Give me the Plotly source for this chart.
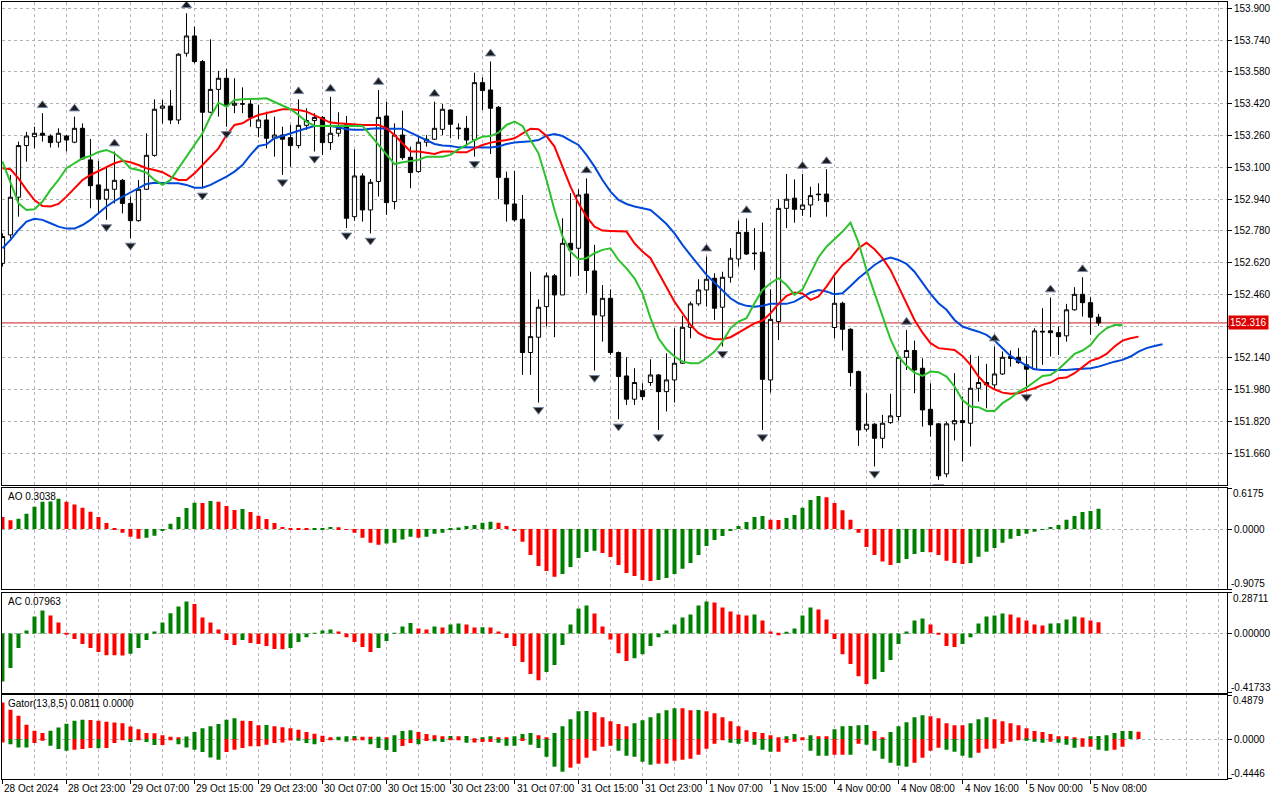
import plotly.graph_objects as go
from plotly.subplots import make_subplots

# USDJPY H1, bars from 28 Oct 2024 15:00 to 5 Nov 2024 09:00
open_ = [
    152.616, 152.759, 152.949, 153.209, 153.254, 153.271, 153.257, 153.226, 153.257, 153.226,
    153.296, 153.137, 153.011, 152.939, 152.989, 153.034, 152.918, 152.831, 152.989, 153.160,
    153.397, 153.408, 153.338, 153.674, 153.761, 153.632, 153.377, 153.492, 153.548, 153.412,
    153.420, 153.418, 153.299, 153.338, 153.246, 153.262, 153.249, 153.209, 153.311, 153.335,
    153.351, 153.224, 153.271, 153.318, 152.851, 153.056, 152.885, 153.028, 153.358, 152.927,
    153.262, 153.150, 153.078, 153.226, 153.241, 153.291, 153.388, 153.298, 153.296, 153.237,
    153.526, 153.489, 153.402, 153.044, 152.915, 152.838, 152.167, 152.244, 152.398, 152.553,
    152.457, 152.717, 152.692, 152.965, 152.578, 152.351, 152.440, 152.167, 152.049, 151.932,
    151.975, 152.016, 152.054, 151.970, 152.029, 152.113, 152.294, 152.412, 152.482, 152.541,
    152.395, 152.546, 152.638, 152.772, 152.668, 152.672, 152.029, 152.323, 152.893, 152.944,
    152.888, 152.910, 152.965, 152.965, 152.293, 152.415, 152.284, 152.071, 151.781, 151.806,
    151.735, 151.814, 151.845, 152.143, 152.177, 152.088, 151.881, 151.808, 151.556, 151.808,
    151.824, 151.811, 151.987, 152.016, 152.004, 152.059, 152.137, 152.143, 152.105, 152.083,
    152.274, 152.276, 152.267, 152.251, 152.382, 152.460, 152.418, 152.345,
]
high_ = [
    152.767, 153.061, 153.229, 153.278, 153.304, 153.372, 153.266, 153.296, 153.262, 153.355,
    153.321, 153.242, 153.132, 153.103, 153.179, 153.041, 152.952, 153.036, 153.271, 153.442,
    153.439, 153.489, 153.674, 153.875, 153.808, 153.640, 153.744, 153.585, 153.595, 153.548,
    153.502, 153.439, 153.413, 153.380, 153.355, 153.304, 153.313, 153.442, 153.397, 153.372,
    153.358, 153.455, 153.377, 153.358, 153.190, 153.069, 153.041, 153.489, 153.430, 153.321,
    153.385, 153.204, 153.254, 153.262, 153.430, 153.418, 153.392, 153.321, 153.358, 153.576,
    153.553, 153.632, 153.408, 153.078, 153.081, 152.960, 152.574, 152.435, 152.569, 152.563,
    152.843, 152.969, 152.989, 153.044, 152.709, 152.507, 152.485, 152.172, 152.143, 152.088,
    152.012, 152.133, 152.059, 152.163, 152.289, 152.351, 152.423, 152.536, 152.650, 152.566,
    152.574, 152.692, 152.831, 152.843, 152.793, 152.821, 152.485, 152.939, 153.066, 153.039,
    153.066, 153.002, 153.019, 153.090, 152.546, 152.423, 152.289, 152.076, 151.962, 151.811,
    151.853, 151.959, 152.155, 152.281, 152.227, 152.138, 152.012, 151.811, 151.819, 152.063,
    151.945, 152.155, 152.150, 152.110, 152.197, 152.172, 152.177, 152.189, 152.150, 152.289,
    152.390, 152.444, 152.298, 152.412, 152.496, 152.546, 152.445, 152.361,
]
low_ = [
    152.600, 152.742, 152.851, 153.128, 153.195, 153.229, 153.199, 153.199, 153.179, 153.221,
    153.137, 152.893, 152.868, 152.835, 152.918, 152.868, 152.742, 152.826, 152.986, 153.153,
    153.321, 153.318, 153.318, 153.657, 153.623, 152.994, 153.372, 153.355, 153.304, 153.372,
    153.372, 153.304, 153.251, 153.195, 153.153, 153.061, 153.103, 153.195, 153.288, 153.179,
    153.162, 153.187, 153.254, 152.793, 152.831, 152.826, 152.767, 152.952, 152.860, 152.888,
    153.137, 152.994, 153.073, 153.204, 153.237, 153.262, 153.246, 153.241, 153.204, 153.153,
    153.388, 153.167, 152.939, 152.826, 152.826, 152.054, 152.054, 151.915, 152.298, 152.244,
    152.457, 152.549, 152.553, 152.465, 152.076, 152.222, 152.155, 151.831, 151.903, 151.903,
    151.928, 151.999, 151.777, 151.870, 151.915, 152.110, 152.239, 152.402, 152.398, 152.331,
    152.197, 152.519, 152.600, 152.658, 152.583, 151.777, 151.965, 152.230, 152.793, 152.821,
    152.855, 152.848, 152.930, 152.851, 152.239, 152.177, 151.996, 151.697, 151.769, 151.593,
    151.685, 151.808, 151.824, 152.079, 151.962, 151.794, 151.744, 151.526, 151.539, 151.724,
    151.618, 151.694, 151.920, 151.886, 151.987, 152.054, 152.096, 152.110, 151.979, 152.079,
    152.105, 152.147, 152.155, 152.222, 152.378, 152.348, 152.256, 152.301,
]
close_ = [
    152.751, 152.949, 153.209, 153.257, 153.271, 153.261, 153.224, 153.271, 153.237, 153.296,
    153.142, 153.007, 152.939, 152.989, 153.034, 152.918, 152.831, 152.989, 153.160, 153.392,
    153.408, 153.338, 153.669, 153.761, 153.632, 153.377, 153.492, 153.548, 153.408, 153.422,
    153.418, 153.351, 153.338, 153.246, 153.262, 153.241, 153.209, 153.311, 153.335, 153.351,
    153.224, 153.271, 153.296, 152.843, 153.056, 152.885, 153.024, 153.351, 152.922, 153.262,
    153.148, 153.073, 153.226, 153.241, 153.296, 153.392, 153.316, 153.294, 153.237, 153.526,
    153.486, 153.397, 153.049, 152.915, 152.835, 152.167, 152.247, 152.395, 152.553, 152.457,
    152.717, 152.684, 152.960, 152.580, 152.356, 152.440, 152.167, 152.046, 151.932, 152.016,
    151.945, 152.054, 151.970, 152.029, 152.113, 152.294, 152.412, 152.482, 152.536, 152.390,
    152.546, 152.642, 152.772, 152.663, 152.665, 152.032, 152.334, 152.893, 152.939, 152.888,
    152.910, 152.957, 152.962, 152.927, 152.415, 152.284, 152.066, 151.777, 151.806, 151.735,
    151.811, 151.848, 152.143, 152.177, 152.079, 151.878, 151.803, 151.546, 151.808, 151.824,
    151.814, 151.987, 152.016, 152.004, 152.059, 152.143, 152.147, 152.116, 152.083, 152.276,
    152.271, 152.267, 152.247, 152.382, 152.460, 152.418, 152.345, 152.316,
]

# Alligator lines as drawn (already shifted forward: jaw 8, teeth 5, lips 3)
jaw = [
    152.692, 152.734, 152.784, 152.826, 152.840, 152.835, 152.818, 152.801, 152.791, 152.791,
    152.809, 152.835, 152.868, 152.902, 152.930, 152.952, 152.972, 152.994, 153.016, 153.022,
    153.019, 153.019, 153.019, 153.011, 152.997, 152.997, 153.011, 153.031, 153.053, 153.078,
    153.111, 153.162, 153.207, 153.215, 153.246, 153.257, 153.271, 153.284, 153.296, 153.308,
    153.308, 153.308, 153.301, 153.291, 153.289, 153.289, 153.294, 153.296, 153.294, 153.294,
    153.294, 153.274, 153.254, 153.237, 153.217, 153.210, 153.207, 153.200, 153.199, 153.199,
    153.199, 153.199, 153.204, 153.217, 153.224, 153.226, 153.231, 153.237, 153.259, 153.267,
    153.257, 153.234, 153.212, 153.162, 153.103, 153.036, 152.977, 152.935, 152.915, 152.902,
    152.893, 152.885, 152.851, 152.814, 152.767, 152.709, 152.658, 152.608, 152.558, 152.519,
    152.479, 152.440, 152.415, 152.402, 152.398, 152.402, 152.412, 152.412, 152.412, 152.423,
    152.445, 152.469, 152.482, 152.474, 152.460, 152.465, 152.502, 152.541, 152.574, 152.608,
    152.633, 152.645, 152.633, 152.613, 152.574, 152.516, 152.462, 152.415, 152.382, 152.331,
    152.298, 152.284, 152.272, 152.256, 152.227, 152.189, 152.150, 152.125, 152.101, 152.083,
    152.079, 152.079, 152.079, 152.079, 152.083, 152.086, 152.088, 152.096, 152.110, 152.121,
    152.130, 152.147, 152.172, 152.189, 152.200, 152.209,
]
teeth = [
    153.095, 153.090, 153.044, 152.986, 152.935, 152.905, 152.902, 152.915, 152.952, 152.994,
    153.036, 153.061, 153.081, 153.098, 153.120, 153.132, 153.125, 153.111, 153.095, 153.086,
    153.075, 153.053, 153.036, 153.036, 153.069, 153.111, 153.153, 153.195, 153.262, 153.313,
    153.321, 153.346, 153.363, 153.372, 153.383, 153.392, 153.392, 153.388, 153.380, 153.363,
    153.346, 153.325, 153.321, 153.318, 153.313, 153.313, 153.313, 153.313, 153.296, 153.262,
    153.221, 153.179, 153.179, 153.174, 153.167, 153.179, 153.179, 153.175, 153.175, 153.195,
    153.212, 153.224, 153.229, 153.237, 153.246, 153.271, 153.294, 153.291, 153.257, 153.204,
    153.103, 153.002, 152.918, 152.851, 152.801, 152.781, 152.779, 152.779, 152.776, 152.717,
    152.675, 152.642, 152.569, 152.496, 152.423, 152.365, 152.306, 152.264, 152.244, 152.234,
    152.234, 152.244, 152.267, 152.289, 152.314, 152.328, 152.365, 152.412, 152.452, 152.469,
    152.465, 152.432, 152.449, 152.499, 152.558, 152.608, 152.642, 152.692, 152.720, 152.687,
    152.642, 152.583, 152.499, 152.407, 152.331, 152.267, 152.214, 152.189, 152.183, 152.180,
    152.150, 152.105, 152.046, 152.004, 151.982, 151.965, 151.959, 151.962, 151.975, 151.987,
    152.004, 152.016, 152.038, 152.041, 152.063, 152.096, 152.125, 152.138, 152.160, 152.197,
    152.227, 152.239, 152.247,
]
lips = [
    153.128, 153.028, 152.918, 152.885, 152.888, 152.927, 152.986, 153.036, 153.095, 153.120,
    153.145, 153.157, 153.177, 153.187, 153.170, 153.137, 153.095, 153.086, 153.073, 153.036,
    153.011, 153.036, 153.095, 153.157, 153.212, 153.271, 153.355, 153.425, 153.405, 153.439,
    153.442, 153.445, 153.445, 153.447, 153.430, 153.413, 153.392, 153.363, 153.330, 153.308,
    153.309, 153.309, 153.309, 153.308, 153.308, 153.308, 153.262, 153.212, 153.162, 153.116,
    153.125, 153.132, 153.137, 153.153, 153.153, 153.153, 153.162, 153.190, 153.212, 153.237,
    153.254, 153.257, 153.274, 153.313, 153.330, 153.308, 153.237, 153.170, 153.036, 152.885,
    152.751, 152.675, 152.637, 152.642, 152.667, 152.684, 152.692, 152.633, 152.591, 152.541,
    152.465, 152.340, 152.239, 152.183, 152.147, 152.121, 152.113, 152.113, 152.138, 152.172,
    152.222, 152.289, 152.323, 152.340, 152.415, 152.482, 152.516, 152.541, 152.507, 152.457,
    152.485, 152.566, 152.647, 152.700, 152.737, 152.776, 152.821, 152.720, 152.583, 152.465,
    152.348, 152.234, 152.147, 152.100, 152.066, 152.049, 152.071, 152.068, 152.046, 151.996,
    151.928, 151.895, 151.892, 151.873, 151.873, 151.912, 151.937, 151.970, 151.991, 152.021,
    152.049, 152.054, 152.083, 152.121, 152.160, 152.177, 152.205, 152.256, 152.289, 152.306,
    152.306,
]

# bar indexes carrying a fractal
fractal_up = [5, 9, 14, 23, 37, 41, 47, 54, 61, 73, 88, 93, 100, 103, 113, 124, 131, 135]
fractal_dn = [13, 16, 25, 28, 35, 39, 43, 46, 59, 67, 74, 77, 82, 90, 95, 109, 117, 128]

ao = [
    0.181, 0.131, 0.156, 0.231, 0.336, 0.412, 0.415, 0.457, 0.412, 0.371,
    0.321, 0.261, 0.181, 0.090, 0.015, -0.055, -0.115, -0.146, -0.131, -0.100,
    -0.025, 0.080, 0.181, 0.316, 0.397, 0.392, 0.422, 0.412, 0.346, 0.286,
    0.301, 0.256, 0.201, 0.151, 0.090, 0.030, 0.006, 0.003, 0.001, 0.002,
    0.010, 0.030, 0.027, -0.003, -0.055, -0.131, -0.206, -0.236, -0.216, -0.206,
    -0.156, -0.115, -0.131, -0.115, -0.070, -0.055, 0.002, 0.025, 0.045, 0.060,
    0.095, 0.110, 0.095, 0.045, -0.025, -0.191, -0.392, -0.557, -0.633, -0.718,
    -0.678, -0.572, -0.437, -0.346, -0.326, -0.361, -0.422, -0.542, -0.663, -0.708,
    -0.768, -0.783, -0.768, -0.738, -0.678, -0.597, -0.512, -0.392, -0.256, -0.166,
    -0.105, -0.025, 0.045, 0.105, 0.181, 0.196, 0.141, 0.136, 0.166, 0.211,
    0.321, 0.437, 0.497, 0.477, 0.392, 0.281, 0.141, -0.055, -0.271, -0.392,
    -0.487, -0.542, -0.512, -0.452, -0.377, -0.346, -0.351, -0.392, -0.477, -0.512,
    -0.527, -0.512, -0.417, -0.341, -0.286, -0.206, -0.146, -0.105, -0.070, -0.040,
    -0.005, 0.030, 0.060, 0.141, 0.196, 0.256, 0.271, 0.3038,
]
ac = [
    -0.338, -0.244, -0.103, 0.021, 0.120, 0.162, 0.127, 0.077, -0.005, -0.040,
    -0.075, -0.103, -0.131, -0.153, -0.154, -0.155, -0.143, -0.103, -0.047, 0.014,
    0.077, 0.143, 0.190, 0.225, 0.207, 0.113, 0.077, 0.028, -0.047, -0.082,
    -0.047, -0.068, -0.075, -0.089, -0.110, -0.111, -0.103, -0.061, -0.026, 0.003,
    0.021, 0.028, 0.014, -0.026, -0.061, -0.096, -0.131, -0.103, -0.054, 0.002,
    0.049, 0.073, 0.035, 0.028, 0.049, 0.042, 0.063, 0.070, 0.063, 0.042,
    0.043, 0.041, 0.014, -0.033, -0.089, -0.202, -0.286, -0.329, -0.272, -0.223,
    -0.082, 0.063, 0.176, 0.197, 0.141, 0.049, -0.042, -0.139, -0.195, -0.174,
    -0.146, -0.089, -0.026, 0.021, 0.063, 0.113, 0.134, 0.197, 0.225, 0.218,
    0.183, 0.155, 0.134, 0.127, 0.134, 0.092, 0.014, -0.012, 0.007, 0.035,
    0.127, 0.183, 0.169, 0.099, -0.040, -0.146, -0.216, -0.301, -0.357, -0.322,
    -0.272, -0.188, -0.075, 0.014, 0.092, 0.106, 0.063, -0.003, -0.089, -0.096,
    -0.075, -0.026, 0.070, 0.120, 0.127, 0.141, 0.134, 0.113, 0.092, 0.063,
    0.056, 0.070, 0.071, 0.099, 0.120, 0.113, 0.092, 0.07963,
]
gator_up = [
    0.407, 0.326, 0.259, 0.159, 0.093, 0.067, 0.093, 0.130, 0.170, 0.204,
    0.215, 0.214, 0.204, 0.192, 0.185, 0.178, 0.141, 0.111, 0.067, 0.066,
    0.044, 0.026, 0.015, 0.030, 0.078, 0.122, 0.144, 0.167, 0.215, 0.233,
    0.204, 0.203, 0.155, 0.156, 0.144, 0.133, 0.122, 0.104, 0.078, 0.059,
    0.037, 0.015, 0.026, 0.033, 0.034, 0.026, 0.025, 0.026, 0.015, 0.044,
    0.089, 0.100, 0.078, 0.056, 0.044, 0.033, 0.034, 0.033, 0.034, 0.002,
    0.022, 0.033, 0.022, 0.021, 0.033, 0.056, 0.067, 0.044, 0.022, 0.067,
    0.144, 0.222, 0.311, 0.312, 0.300, 0.244, 0.200, 0.167, 0.144, 0.178,
    0.211, 0.244, 0.289, 0.322, 0.344, 0.343, 0.322, 0.323, 0.311, 0.289,
    0.244, 0.200, 0.144, 0.100, 0.078, 0.067, 0.044, 0.011, 0.033, 0.056,
    0.011, 0.044, 0.033, 0.032, 0.111, 0.144, 0.145, 0.155, 0.156, 0.089,
    0.022, 0.078, 0.144, 0.189, 0.244, 0.266, 0.255, 0.233, 0.178, 0.155,
    0.154, 0.178, 0.222, 0.244, 0.222, 0.200, 0.178, 0.155, 0.122, 0.089,
    0.078, 0.056, 0.033, 0.032, 0.022, 0.001, 0.033, 0.034, 0.044, 0.067,
    0.089, 0.090, 0.0811,
]
gator_dn = [
    -0.037, -0.056, -0.093, -0.094, -0.044, -0.019, -0.074, -0.111, -0.130, -0.118,
    -0.111, -0.100, -0.101, -0.099, -0.044, -0.007, -0.033, -0.007, -0.033, -0.067,
    -0.066, -0.007, -0.056, -0.093, -0.118, -0.144, -0.204, -0.229, -0.144, -0.118,
    -0.100, -0.081, -0.080, -0.063, -0.044, -0.037, -0.015, -0.019, -0.044, -0.056,
    -0.033, -0.007, -0.008, -0.030, -0.015, -0.007, -0.056, -0.100, -0.122, -0.144,
    -0.078, -0.044, -0.056, -0.022, -0.023, -0.033, -0.011, -0.007, -0.041, -0.037,
    -0.033, -0.032, -0.041, -0.074, -0.075, -0.022, -0.063, -0.100, -0.196, -0.307,
    -0.363, -0.318, -0.274, -0.207, -0.130, -0.085, -0.074, -0.130, -0.185, -0.196,
    -0.252, -0.285, -0.274, -0.273, -0.241, -0.229, -0.218, -0.174, -0.107, -0.052,
    -0.007, -0.041, -0.052, -0.030, -0.063, -0.118, -0.141, -0.140, -0.041, -0.030,
    -0.007, -0.130, -0.185, -0.186, -0.174, -0.173, -0.174, -0.052, -0.063, -0.130,
    -0.218, -0.263, -0.296, -0.307, -0.263, -0.207, -0.130, -0.096, -0.118, -0.141,
    -0.185, -0.207, -0.152, -0.107, -0.106, -0.052, -0.030, -0.007, -0.019, -0.030,
    -0.041, -0.030, -0.041, -0.063, -0.096, -0.085, -0.084, -0.118, -0.130, -0.118,
    -0.085, 0.0, 0.0,
]

time_idx = [0, 8, 16, 24, 32, 40, 48, 56, 64, 72, 80, 88, 96, 104, 112, 120, 128, 136]
time_txt = ["28 Oct 2024", "28 Oct 23:00", "29 Oct 07:00", "29 Oct 15:00", "29 Oct 23:00",
            "30 Oct 07:00", "30 Oct 15:00", "30 Oct 23:00", "31 Oct 07:00", "31 Oct 15:00",
            "31 Oct 23:00", "1 Nov 07:00", "1 Nov 15:00", "4 Nov 00:00", "4 Nov 08:00",
            "4 Nov 16:00", "5 Nov 00:00", "5 Nov 08:00"]
price_ticks = [151.660, 151.820, 151.980, 152.140, 152.300, 152.460, 152.620, 152.780,
               152.940, 153.100, 153.260, 153.420, 153.580, 153.740, 153.900]

GREEN = "#008000"
RED = "#ff0000"
FONT = "Liberation Sans"
XGRID = "#bfaebf"
YGRID = "#a9b5a9"


def bar_colors(vals, first, use_abs=False):
    # MT style: green when the bar grew against the previous one
    cols = [first]
    for i in range(1, len(vals)):
        a, b = vals[i], vals[i - 1]
        if use_abs:
            a, b = abs(a), abs(b)
        cols.append(GREEN if a > b else RED)
    return cols


fig = make_subplots(rows=4, cols=1, shared_xaxes=True, vertical_spacing=0.0)

n = len(close_)
fig.add_trace(go.Candlestick(
    x=list(range(n)), open=open_, high=high_, low=low_, close=close_,
    increasing=dict(line=dict(color="black", width=1), fillcolor="white"),
    decreasing=dict(line=dict(color="black", width=1), fillcolor="black"),
    whiskerwidth=0, hoverinfo="skip"), row=1, col=1)

for vals, col in [(jaw, "#0048d8"), (teeth, "#ff0000"), (lips, "#2ec12e")]:
    fig.add_trace(go.Scatter(x=list(range(len(vals))), y=vals, mode="lines",
                             line=dict(color=col, width=2)), row=1, col=1)

# fractal arrows: solid dark heads just beyond the extreme of the bar
fig.add_trace(go.Scatter(
    x=fractal_up, y=[high_[i] + 0.040 for i in fractal_up], mode="markers",
    marker=dict(symbol="triangle-up", size=9, color="#1c1c1c",
                line=dict(color="#7888a8", width=1))), row=1, col=1)
fig.add_trace(go.Scatter(
    x=fractal_dn, y=[low_[i] - 0.036 for i in fractal_dn], mode="markers",
    marker=dict(symbol="triangle-down", size=9, color="#1c1c1c",
                line=dict(color="#7888a8", width=1))), row=1, col=1)

fig.add_trace(go.Bar(x=list(range(len(ao))), y=ao, width=0.5,
                     marker=dict(color=bar_colors(ao, RED), line=dict(width=0))), row=2, col=1)
fig.add_trace(go.Bar(x=list(range(len(ac))), y=ac, width=0.5,
                     marker=dict(color=bar_colors(ac, GREEN), line=dict(width=0))), row=3, col=1)
fig.add_trace(go.Bar(x=list(range(len(gator_up))), y=gator_up, width=0.5,
                     marker=dict(color=bar_colors(gator_up, RED), line=dict(width=0))), row=4, col=1)
fig.add_trace(go.Bar(x=list(range(len(gator_dn))), y=gator_dn, width=0.5,
                     marker=dict(color=bar_colors(gator_dn, RED, use_abs=True), line=dict(width=0))),
              row=4, col=1)

# last price line and its tag
fig.add_shape(type="line", xref="x domain", x0=0, x1=1, yref="y", y0=close_[-1], y1=close_[-1],
              line=dict(color="#c81e1e", width=1), layer="below")

tickfont = dict(family=FONT, size=10, color="black")
fig.update_layout(
    width=1280, height=800,
    margin=dict(l=2, r=53, t=2, b=21),
    paper_bgcolor="white", plot_bgcolor="white",
    showlegend=False, barmode="relative",
    boxgap=0.3, boxgroupgap=0.25,
    font=dict(family=FONT, size=10, color="black"),
    xaxis_rangeslider_visible=False,
)

domains = [[0.3784, 1.0], [0.2441, 0.3745], [0.1111, 0.2398], [0.0, 0.1077]]
for r in range(1, 5):
    fig.update_yaxes(domain=domains[r - 1], row=r, col=1)
    fig.update_xaxes(
        range=[-0.06, 153.06], showline=True, mirror=True, linecolor="black", linewidth=1,
        showgrid=True, gridcolor=XGRID, griddash="3px,3px", gridwidth=1, zeroline=False,
        tickmode="linear", tick0=0, dtick=4, ticks="", showticklabels=False,
        row=r, col=1)

fig.update_xaxes(tickmode="array", tickvals=time_idx, ticks="outside", ticklen=4,
                 tickcolor="black",
                 minor=dict(tickmode="linear", tick0=0, dtick=4, showgrid=True,
                            gridcolor=XGRID, griddash="3px,3px", ticks=""),
                 row=4, col=1)

ycommon = dict(side="right", showline=True, mirror=True, linecolor="black", linewidth=1,
               showgrid=True, gridcolor=YGRID, griddash="3px,3px", zeroline=False,
               ticks="outside", ticklen=4, tickcolor="black", tickfont=tickfont,
               fixedrange=True)
# the 152.300 label sits under the last-price tag, as in the terminal
price_text = ["" if abs(v - close_[-1]) < 0.03 else f"{v:.3f}" for v in price_ticks]
fig.update_yaxes(range=[151.500, 153.932], tickmode="array", tickvals=price_ticks,
                 ticktext=price_text, row=1, col=1, **ycommon)
panel_axes = [(2, -0.9075, 0.6175, "0.0000", "-0.9075", "0.6175"),
              (3, -0.41733, 0.28711, "0.00000", "-0.41733", "0.28711"),
              (4, -0.4446, 0.4879, "0.0000", "-0.4446", "0.4879")]
for r, lo, hi, zt, lot, hit in panel_axes:
    fig.update_yaxes(range=[lo, hi], tickmode="array", tickvals=[lo, 0, hi],
                     ticktext=["", zt, ""], row=r, col=1, **ycommon)
    yref = f"y{r}"
    fig.add_annotation(text=hit, xref="paper", x=1, xanchor="left", xshift=4,
                       yref=yref, y=hi, yanchor="top", yshift=2, showarrow=False,
                       font=tickfont)
    fig.add_annotation(text=lot, xref="paper", x=1, xanchor="left", xshift=2,
                       yref=yref, y=lo, yanchor="bottom", yshift=-2, showarrow=False,
                       font=tickfont)

panel_titles = [(2, "AO 0.3038"), (3, "AC 0.07963"), (4, "Gator(13,8,5) 0.0811 0.0000")]
for r, txt in panel_titles:
    fig.add_annotation(text=txt, xref="paper", x=0, xanchor="left", xshift=4,
                       yref=f"y{r} domain", y=1, yanchor="top", yshift=-1,
                       showarrow=False, font=tickfont)

fig.add_annotation(text=f"{close_[-1]:.3f}", xref="paper", x=1, xanchor="left", xshift=1,
                   yref="y", y=close_[-1], yanchor="middle", showarrow=False,
                   bgcolor="#dc0000", borderpad=1,
                   font=dict(family=FONT, size=10, color="white"))

for idx, txt in zip(time_idx, time_txt):
    fig.add_annotation(text=txt, xref="x4", x=idx, xanchor="left", xshift=0,
                       yref="paper", y=0, yanchor="top", yshift=-2,
                       showarrow=False, font=tickfont)

# drop the default page margin so the figure sits at the window corner
fig.write_html("out.html", config={"displayModeBar": False},
               post_script="document.body.style.margin='0';")
